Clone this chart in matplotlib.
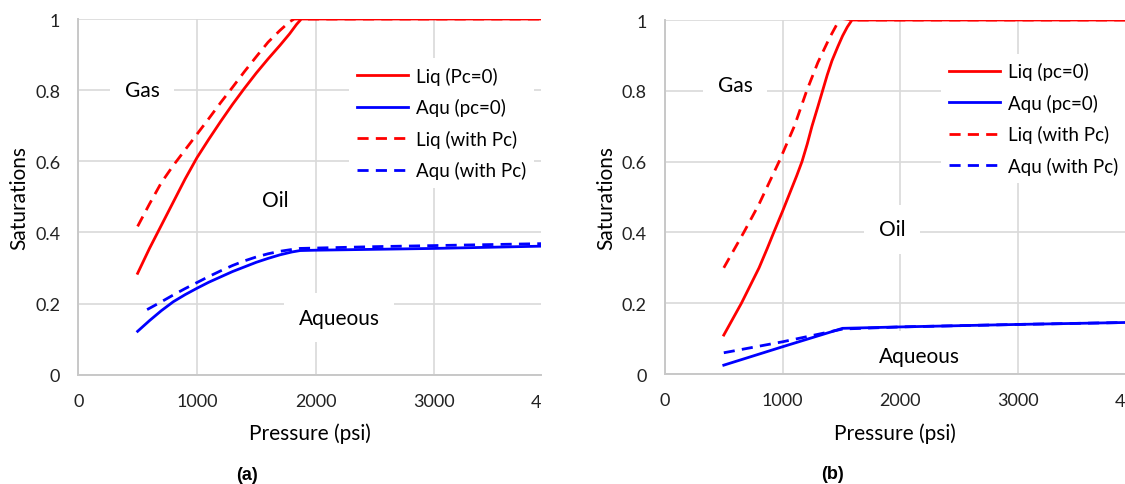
import matplotlib
matplotlib.use("Agg")
import matplotlib.pyplot as plt

# panel (a)
a_liq_p = [500, 600, 700, 800, 900, 1000, 1100, 1200, 1300, 1400, 1500, 1600, 1700, 1780, 1840, 1880, 2500, 4000]
a_liq = [0.285, 0.355, 0.42, 0.485, 0.55, 0.61, 0.662, 0.712, 0.76, 0.805, 0.848, 0.888, 0.926, 0.958, 0.985, 1.0, 1.0, 1.0]
a_aqu_p = [500, 600, 700, 800, 900, 1000, 1100, 1200, 1300, 1400, 1500, 1600, 1700, 1800, 1870, 2000, 3000, 4000]
a_aqu = [0.122, 0.152, 0.18, 0.205, 0.225, 0.243, 0.26, 0.275, 0.29, 0.303, 0.316, 0.327, 0.337, 0.345, 0.349, 0.35, 0.355, 0.362]
a_liq_pc_p = [500, 600, 700, 800, 900, 1000, 1100, 1200, 1300, 1400, 1500, 1600, 1700, 1780, 1820, 2500, 4000]
a_liq_pc = [0.417, 0.48, 0.54, 0.588, 0.632, 0.676, 0.72, 0.765, 0.808, 0.852, 0.894, 0.935, 0.968, 0.992, 1.0, 1.0, 1.0]
a_aqu_pc_p = [580, 700, 800, 900, 1000, 1100, 1200, 1300, 1400, 1500, 1600, 1700, 1800, 1870, 2500, 4000]
a_aqu_pc = [0.183, 0.205, 0.224, 0.242, 0.259, 0.276, 0.292, 0.307, 0.32, 0.331, 0.34, 0.347, 0.352, 0.355, 0.36, 0.369]

# panel (b)
b_liq_p = [500, 575, 650, 725, 800, 870, 925, 1000, 1060, 1120, 1165, 1210, 1250, 1300, 1340,
           1380, 1420, 1470, 1510, 1550, 1590, 2500, 4000]
b_liq = [0.11, 0.155, 0.2, 0.25, 0.3, 0.355, 0.4, 0.46, 0.51, 0.56, 0.6, 0.65, 0.7, 0.755, 0.8,
         0.845, 0.885, 0.925, 0.955, 0.98, 1.0, 1.0, 1.0]
b_aqu_p = [500, 1000, 1510, 2000, 3000, 4000]
b_aqu = [0.025, 0.077, 0.129, 0.133, 0.14, 0.146]
b_liq_pc_p = [500, 670, 800, 970, 1100, 1205, 1300, 1400, 1490, 1600, 2500, 4000]
b_liq_pc = [0.30, 0.40, 0.48, 0.60, 0.70, 0.80, 0.88, 0.95, 1.005, 1.0, 1.0, 1.0]
b_aqu_pc_p = [500, 1000, 1300, 1510, 2000, 3000, 4000]
b_aqu_pc = [0.06, 0.091, 0.112, 0.127, 0.133, 0.14, 0.146]

labels_a = ["Liq (Pc=0)", "Aqu (pc=0)", "Liq (with Pc)", "Aqu (with Pc)"]
labels_b = ["Liq (pc=0)", "Aqu (pc=0)", "Liq (with Pc)", "Aqu (with Pc)"]
xticks = [0, 1000, 2000, 3000]
yticks = [0, 0.2, 0.4, 0.6, 0.8, 1.0]
ytick_labels = ["0", "0.2", "0.4", "0.6", "0.8", "1"]

FONT = "Lato"
FS = 13
RED = "#ff0000"
BLUE = "#0000ff"
GRID = "#d9d9d9"

fig = plt.figure(figsize=(11.25, 4.85), dpi=100)
ax1 = fig.add_axes([78.3 / 1125, 1 - 375.7 / 485, (541 - 78.3) / 1125, 355.7 / 485])
ax2 = fig.add_axes([665 / 1125, 1 - 375 / 485, (1125 - 665) / 1125, 354 / 485])


def setup(ax, xmax):
    ax.set_xlim(0, xmax)
    ax.set_ylim(0, 1)
    ax.set_xticks(xticks)
    ax.set_xticklabels([str(t) for t in xticks], family=FONT, fontsize=FS)
    ax.set_yticks(yticks)
    ax.set_yticklabels(ytick_labels, family=FONT, fontsize=FS)
    ax.tick_params(length=0, pad=13, colors="#222222")
    ax.grid(True, color=GRID, lw=1.2, zorder=0)
    ax.set_axisbelow(True)
    for s in ["top", "right"]:
        ax.spines[s].set_visible(False)
    for s in ["left", "bottom"]:
        ax.spines[s].set_color("#c8c8c8")
        ax.spines[s].set_linewidth(1.4)
    ax.set_xlabel("Pressure (psi)", family=FONT, fontsize=15, labelpad=10)
    ax.set_ylabel("Saturations", family=FONT, fontsize=15, labelpad=4)
    # clipped "4000" tick label at the right edge
    ax.text(1.0, -0.077, "4", transform=ax.transAxes, ha="right", va="center",
            family=FONT, fontsize=FS, color="#222222")


def region(ax, x, y, s):
    ax.text(x, y, s, ha="center", va="center", family=FONT, fontsize=15,
            zorder=2, bbox=dict(boxstyle="square,pad=0.7", fc="white", ec="none"))


lw = 2.0
dash = (0, (4, 2.6))

setup(ax1, 3900)
ax1.plot(a_liq_p, a_liq, color=RED, lw=lw, label=labels_a[0], zorder=3)
ax1.plot(a_aqu_p, a_aqu, color=BLUE, lw=lw, label=labels_a[1], zorder=3)
ax1.plot(a_liq_pc_p, a_liq_pc, color=RED, lw=lw, ls=dash, label=labels_a[2], zorder=3)
ax1.plot(a_aqu_pc_p, a_aqu_pc, color=BLUE, lw=lw, ls=dash, label=labels_a[3], zorder=3)
region(ax1, 537, 0.80, "Gas")
region(ax1, 1661, 0.49, "Oil")
region(ax1, 2198, 0.16, "Aqueous")
leg1 = ax1.legend(loc="upper left", bbox_to_anchor=(0.585, 0.89), borderaxespad=0,
                  borderpad=0.45, handlelength=2.7, handletextpad=0.4, labelspacing=0.72,
                  frameon=True, fancybox=False, framealpha=1, edgecolor="none",
                  prop={"family": FONT, "size": FS + 0.5})
leg1.set_zorder(2)

setup(ax2, 3912)
ax2.plot(b_liq_p, b_liq, color=RED, lw=lw, label=labels_b[0], zorder=3)
ax2.plot(b_aqu_p, b_aqu, color=BLUE, lw=lw, label=labels_b[1], zorder=3)
ax2.plot(b_liq_pc_p, b_liq_pc, color=RED, lw=lw, ls=dash, label=labels_b[2], zorder=3)
ax2.plot(b_aqu_pc_p, b_aqu_pc, color=BLUE, lw=lw, ls=dash, label=labels_b[3], zorder=3)
region(ax2, 599, 0.815, "Gas")
region(ax2, 1932, 0.409, "Oil")
region(ax2, 2164, 0.052, "Aqueous")
leg2 = ax2.legend(loc="upper left", bbox_to_anchor=(0.60, 0.905), borderaxespad=0,
                  borderpad=0.45, handlelength=2.7, handletextpad=0.4, labelspacing=0.72,
                  frameon=True, fancybox=False, framealpha=1, edgecolor="none",
                  prop={"family": FONT, "size": FS + 0.5})
leg2.set_zorder(2)

fig.text(247 / 1125, 1 - 476 / 485, "(a)", ha="center", va="center",
         family="Liberation Sans", fontweight="bold", fontsize=13)
fig.text(833 / 1125, 1 - 475 / 485, "(b)", ha="center", va="center",
         family="Liberation Sans", fontweight="bold", fontsize=13)

fig.savefig("out.png", dpi=100)
